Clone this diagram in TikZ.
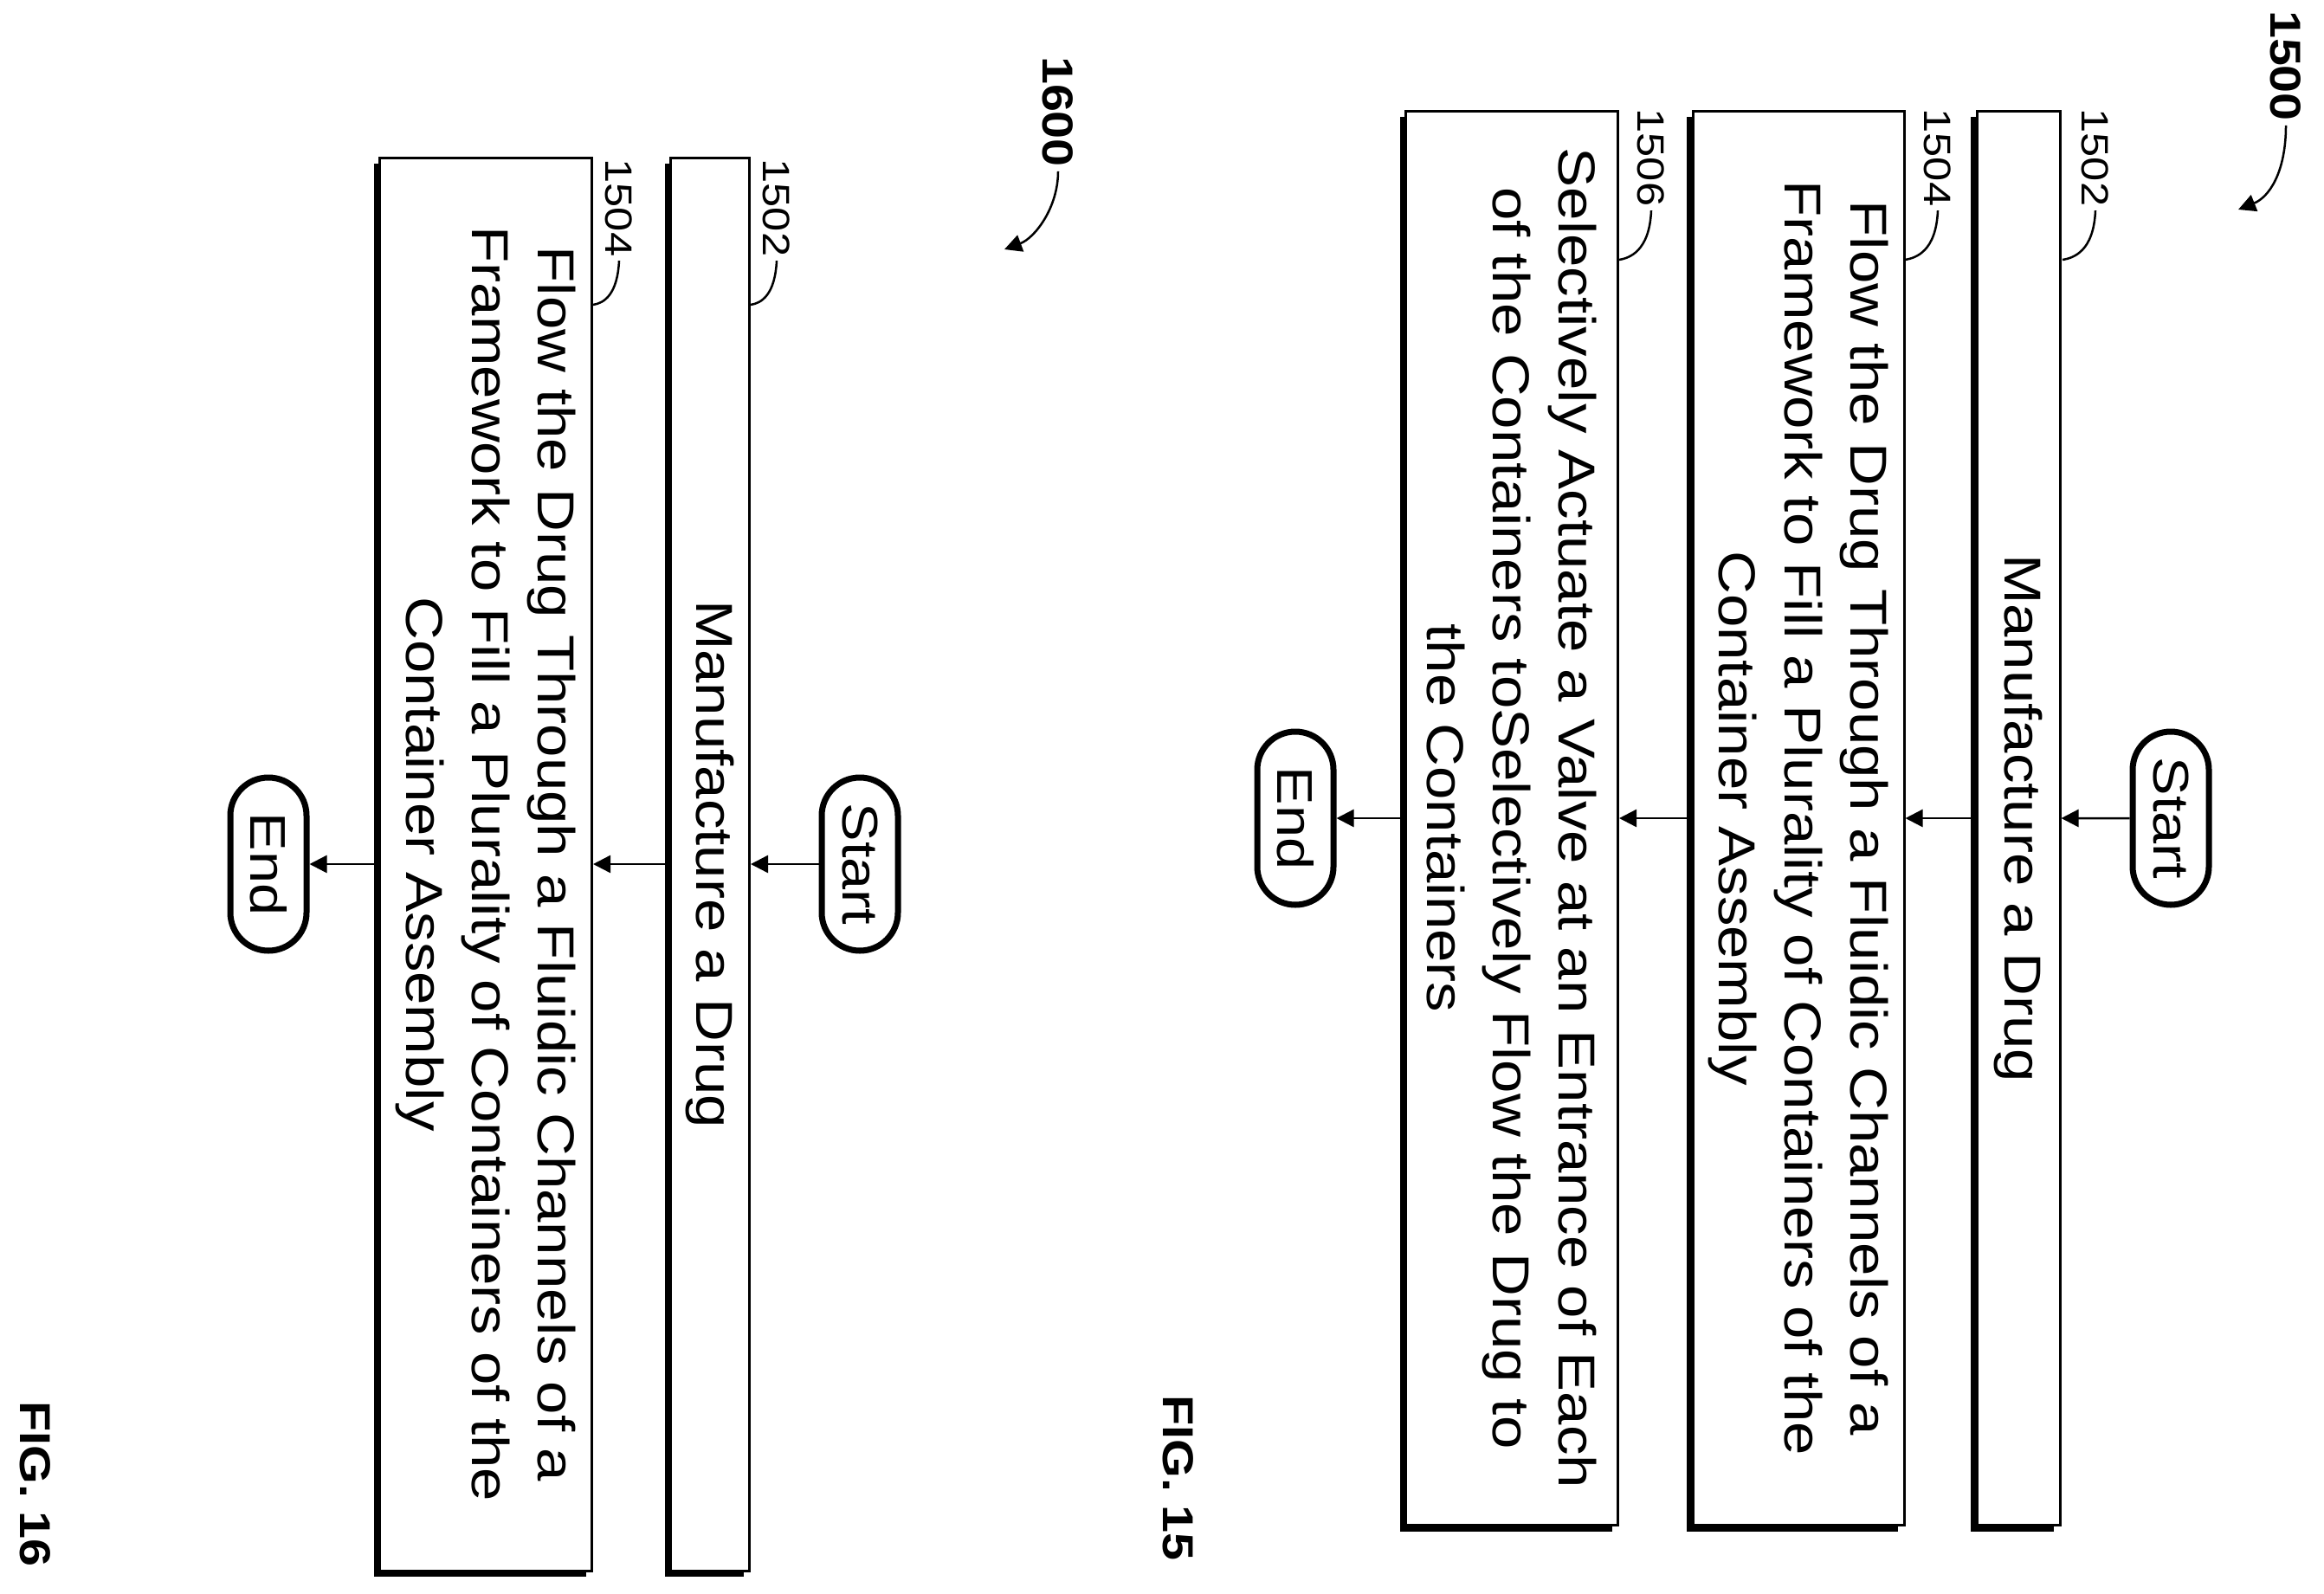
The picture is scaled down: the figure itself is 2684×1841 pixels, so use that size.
\documentclass[tikz,border=0pt]{standalone}
\usepackage{fontspec}
\setmainfont[FakeStretch=1.15]{Liberation Sans}
\usetikzlibrary{arrows.meta,shapes.misc,shadows}
\begin{document}
\begin{tikzpicture}[x=1pt,y=-1pt,line width=3pt,
  stepbox/.style={draw,rotate=-90,align=center,inner sep=0pt,fill=white,
    font=\fontsize{60}{76}\selectfont,
    drop shadow={shadow xshift=-7pt,shadow yshift=-7pt,opacity=1,fill=black}},
  term/.style={draw,rounded rectangle,rotate=-90,line width=7pt,inner sep=0pt,
    minimum width=200pt,minimum height=88pt,font=\fontsize{58}{66}\selectfont},
  ref/.style={rotate=-90,font=\fontsize{44}{48}\selectfont},
  fig/.style={rotate=-90,font=\bfseries\fontsize{50}{60}\selectfont},
  flow/.style={-{Triangle[width=20pt,length=20pt]},line width=2.5pt},
  lead/.style={line width=2.5pt}]
\useasboundingbox (0,0) rectangle (2684,1841);
% FIG. 15
\node[term] (s15) at (2507,945) {Start};
\node[stepbox,minimum width=1633pt,minimum height=96pt] (a15) at (2331,945) {Manufacture a Drug};
\node[stepbox,minimum width=1633pt,minimum height=244pt] (b15) at (2077,945)
  {Flow the Drug Through a Fluidic Channels of a\\Framework to Fill a Plurality of Containers of the\\Container Assembly};
\node[stepbox,minimum width=1633pt,minimum height=245pt] (c15) at (1746,945)
  {Selectively Actuate a Valve at an Entrance of Each\\of the Containers toSelectively Flow the Drug to\\the Containers};
\node[term] (e15) at (1496,945) {End};
\draw[flow] (s15) -- (a15);
\draw[flow] (a15) -- (b15);
\draw[flow] (b15) -- (c15);
\draw[flow] (c15) -- (e15);
\node[ref] (r1502) at (2420,182) {1502};
\node[ref] (r1504) at (2238,182) {1504};
\node[ref] (r1506) at (1907,182) {1506};
\draw[lead] (r1502.east) .. controls (2418,290) and (2395,298) .. (2382,300);
\draw[lead] (r1504.east) .. controls (2236,290) and (2213,298) .. (2200,300);
\draw[lead] (r1506.east) .. controls (1905,290) and (1882,298) .. (1870,300);
\node[fig] (n1500) at (2640,76) {1500};
\draw[flow] (n1500.east) .. controls (2640,200) and (2620,228) .. (2585,242);
\node[fig] (f15) at (1361,1707) {FIG. 15};
% FIG. 16
\node[term] (s16) at (993,998) {Start};
\node[stepbox,minimum width=1632pt,minimum height=91pt] (a16) at (820,998) {Manufacture a Drug};
\node[stepbox,minimum width=1632pt,minimum height=245pt] (b16) at (561,998)
  {Flow the Drug Through a Fluidic Channels of a\\Framework to Fill a Plurality of Containers of the\\Container Assembly};
\node[term] (e16) at (310,998) {End};
\draw[flow] (s16) -- (a16);
\draw[flow] (a16) -- (b16);
\draw[flow] (b16) -- (e16);
\node[ref] (q1502) at (897,240) {1502};
\node[ref] (q1504) at (715,240) {1504};
\draw[lead] (q1502.east) .. controls (895,340) and (880,350) .. (867,352);
\draw[lead] (q1504.east) .. controls (713,340) and (698,350) .. (685,352);
\node[fig] (n1600) at (1222,129) {1600};
\draw[flow] (n1600.east) .. controls (1222,240) and (1195,275) .. (1160,288);
\node[fig] (f16) at (41,1714) {FIG. 16};
\end{tikzpicture}
\end{document}
